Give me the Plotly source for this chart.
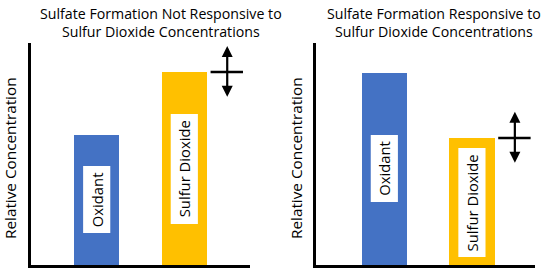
import plotly.graph_objects as go

# ---- data ----
panel_titles = ["Sulfate Formation Not Responsive to<br>Sulfur Dioxide Concentrations",
                "Sulfate Formation Responsive to<br>Sulfur Dioxide Concentrations"]
categories = ["Oxidant", "Sulfur Dioxide"]
left_values = [0.586, 0.869]
right_values = [0.865, 0.572]
y_title = "Relative Concentration"

# label boxes (bottom, top) in data units, per panel per bar
left_label_boxes = [(0.144, 0.446), (0.185, 0.680)]
right_label_boxes = [(0.284, 0.586), (0.036, 0.527)]
# which bar carries the "uncertain" cross-arrow marker
cross_index = 1

BLUE = "#4472C4"
YELLOW = "#FFC000"
FONT = "Open Sans"
W, H = 550, 273

bar_w = 0.52
box_w = 0.31

fig = go.Figure()

panels = [
    dict(values=left_values, boxes=left_label_boxes, xa="x", ya="y",
         xdom=[31 / W, 250 / W], xr=[-0.75, 1.75], title_x=161 / W, ytitle_x=10 / W),
    dict(values=right_values, boxes=right_label_boxes, xa="x2", ya="y2",
         xdom=[316 / W, 535 / W], xr=[-0.78, 1.72], title_x=434 / W, ytitle_x=296 / W),
]

shapes = []
annotations = []
for k, p in enumerate(panels):
    fig.add_trace(go.Bar(
        x=list(range(len(categories))), y=p["values"], width=bar_w,
        marker=dict(color=[BLUE, YELLOW], line=dict(width=0)),
        xaxis=p["xa"], yaxis=p["ya"], showlegend=False, hoverinfo="skip"))
    for i, (cat, (b0, b1)) in enumerate(zip(categories, p["boxes"])):
        shapes.append(dict(type="rect", xref=p["xa"], yref=p["ya"],
                           x0=i - box_w / 2, x1=i + box_w / 2, y0=b0, y1=b1,
                           fillcolor="white", line=dict(width=0), layer="above"))
        annotations.append(dict(xref=p["xa"], yref=p["ya"], x=i, y=(b0 + b1) / 2,
                                text=cat, textangle=-90, showarrow=False,
                                font=dict(family=FONT, size=14.8, color="black")))
    # cross marker next to the bar
    top = p["values"][cross_index]
    cx = cross_index + 0.49
    shapes.append(dict(type="line", xref=p["xa"], yref=p["ya"],
                       x0=cross_index + 0.3, x1=cross_index + 0.67, y0=top, y1=top,
                       line=dict(color="black", width=2.5), layer="above"))
    annotations.append(dict(xref=p["xa"], yref=p["ya"], axref=p["xa"], ayref=p["ya"],
                            x=cx, y=top + 0.118, ax=cx, ay=top - 0.118, text="",
                            showarrow=True, arrowside="end+start", arrowhead=2,
                            arrowsize=1.0, arrowwidth=2.2, arrowcolor="black"))
    # panel title
    annotations.append(dict(xref="paper", yref="paper", x=p["title_x"], y=1 - 22 / H,
                            text=panel_titles[k], showarrow=False,
                            xanchor="center", yanchor="middle", align="center",
                            font=dict(family=FONT, size=14.2, color="black")))
    # y title
    annotations.append(dict(xref="paper", yref="paper", x=p["ytitle_x"], y=1 - 158 / H,
                            text=y_title, textangle=-90, showarrow=False,
                            xanchor="center", yanchor="middle",
                            font=dict(family=FONT, size=15.3, color="black")))

ydom = [1 - 265 / H, 1 - 43 / H]
axis_common = dict(showline=True, linecolor="black", linewidth=2.5, showgrid=False,
                   zeroline=False, showticklabels=False, ticks="", fixedrange=True)

fig.update_layout(
    width=W, height=H, margin=dict(l=0, r=0, t=0, b=0),
    paper_bgcolor="white", plot_bgcolor="white",
    xaxis=dict(domain=panels[0]["xdom"], range=panels[0]["xr"], anchor="y", **axis_common),
    yaxis=dict(domain=ydom, range=[0, 1], anchor="x", **axis_common),
    xaxis2=dict(domain=panels[1]["xdom"], range=panels[1]["xr"], anchor="y2", **axis_common),
    yaxis2=dict(domain=ydom, range=[0, 1], anchor="x2", **axis_common),
    shapes=shapes, annotations=annotations, bargap=0,
)

fig.write_html("out.html", config={"displayModeBar": False},
               post_script="document.body.style.margin='0';document.body.style.overflow='hidden';")
